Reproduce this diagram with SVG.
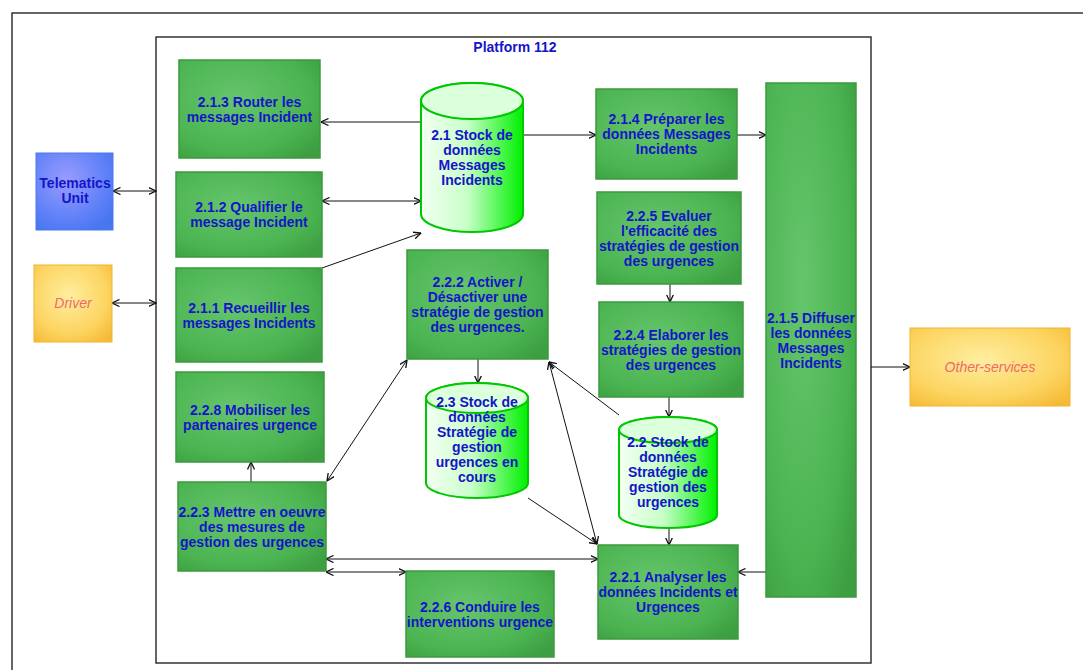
<svg xmlns="http://www.w3.org/2000/svg" width="1083" height="670" viewBox="0 0 1083 670">
<defs>
<style>
.box{stroke:#3b9a3e;stroke-width:1.5}
.lbl{font-family:"Liberation Sans",Arial,sans-serif;font-weight:bold;font-size:14px;fill:#1515c8;text-anchor:middle}
.ext{font-family:"Liberation Sans",Arial,sans-serif;font-style:italic;font-size:14px;fill:#ee6a6a;text-anchor:middle}
.cyl{stroke:#00c800;stroke-width:2}
.cap{fill:#dcffdc;stroke:#00c800;stroke-width:2}
.con{stroke:#111;stroke-width:1;fill:none}
.frame{fill:none;stroke:#333;stroke-width:1.5}
</style>
<radialGradient id="gGreen" cx="0.4" cy="0.4" r="0.75">
<stop offset="0" stop-color="#66c56c"/>
<stop offset="0.7" stop-color="#4bb451"/>
<stop offset="1" stop-color="#3d9f42"/>
</radialGradient>
<radialGradient id="gBlue" cx="0.4" cy="0.35" r="0.75">
<stop offset="0" stop-color="#9a9cff"/>
<stop offset="0.7" stop-color="#5d80f8"/>
<stop offset="1" stop-color="#4676f0"/>
</radialGradient>
<radialGradient id="gOrange" cx="0.45" cy="0.4" r="0.75">
<stop offset="0" stop-color="#ffeea0"/>
<stop offset="0.65" stop-color="#fcd460"/>
<stop offset="1" stop-color="#f5b935"/>
</radialGradient>
<linearGradient id="gCyl" x1="0" y1="0" x2="1" y2="0">
<stop offset="0" stop-color="#f4fff4"/>
<stop offset="0.45" stop-color="#c8ffc8"/>
<stop offset="1" stop-color="#00f000"/>
</linearGradient>
<marker id="arr" viewBox="0 0 8 8" refX="7.5" refY="4" markerWidth="8" markerHeight="8" markerUnits="userSpaceOnUse" orient="auto-start-reverse">
<path d="M0,0.5 L7.5,4 L0,7.5" fill="none" stroke="#111" stroke-width="1.3"/>
</marker>
</defs>
<rect width="1083" height="670" fill="#ffffff"/>
<rect class="frame" x="12" y="13" width="1090" height="680"/>
<rect class="frame" x="156" y="37" width="715" height="626"/>
<text class="lbl" x="515" y="52">Platform 112</text>

<g id="connectors">
<line class="con" x1="113" y1="191" x2="156" y2="191" marker-start="url(#arr)" marker-end="url(#arr)"/>
<line class="con" x1="112" y1="303" x2="156" y2="303" marker-start="url(#arr)" marker-end="url(#arr)"/>
<line class="con" x1="421" y1="122" x2="321" y2="122" marker-end="url(#arr)"/>
<line class="con" x1="322" y1="201" x2="421" y2="201" marker-start="url(#arr)" marker-end="url(#arr)"/>
<line class="con" x1="322" y1="268" x2="421" y2="233" marker-end="url(#arr)"/>
<line class="con" x1="523" y1="135" x2="596" y2="135" marker-end="url(#arr)"/>
<line class="con" x1="737" y1="135" x2="766" y2="135" marker-end="url(#arr)"/>
<line class="con" x1="670" y1="284" x2="670" y2="302" marker-end="url(#arr)"/>
<line class="con" x1="669" y1="397" x2="669" y2="417" marker-end="url(#arr)"/>
<line class="con" x1="669" y1="528" x2="669" y2="545" marker-end="url(#arr)"/>
<line class="con" x1="766" y1="572" x2="738" y2="572" marker-end="url(#arr)"/>
<line class="con" x1="871" y1="367" x2="910" y2="367" marker-end="url(#arr)"/>
<line class="con" x1="478" y1="359" x2="478" y2="383" marker-end="url(#arr)"/>
<line class="con" x1="619" y1="415" x2="549" y2="362" marker-end="url(#arr)"/>
<line class="con" x1="597" y1="544" x2="549" y2="362" marker-start="url(#arr)" marker-end="url(#arr)"/>
<line class="con" x1="528" y1="498" x2="597" y2="544" marker-end="url(#arr)"/>
<line class="con" x1="327" y1="481" x2="407" y2="360" marker-start="url(#arr)" marker-end="url(#arr)"/>
<line class="con" x1="251" y1="482" x2="251" y2="462" marker-end="url(#arr)"/>
<line class="con" x1="326" y1="559" x2="598" y2="559" marker-start="url(#arr)" marker-end="url(#arr)"/>
<line class="con" x1="326" y1="572" x2="406" y2="572" marker-start="url(#arr)" marker-end="url(#arr)"/>
</g>

<g id="telematics">
<rect x="36" y="153" width="77" height="77" fill="url(#gBlue)" stroke="#4a78ee"/>
<text class="lbl"><tspan x="75" y="188">Telematics</tspan><tspan x="75" y="203">Unit</tspan></text>
</g>
<g id="driver">
<rect x="34" y="265" width="78" height="77" fill="url(#gOrange)" stroke="#f3b430"/>
<text class="ext" x="73" y="308">Driver</text>
</g>
<g id="other-services">
<rect x="910" y="328" width="160" height="78" fill="url(#gOrange)" stroke="#f3b430"/>
<text class="ext" x="990" y="372">Other-services</text>
</g>

<g id="n213">
<rect class="box" x="179" y="60" width="141" height="98" fill="url(#gGreen)"/>
<text class="lbl"><tspan x="249.5" y="106.5">2.1.3 Router les</tspan><tspan x="249.5" y="121.5">messages Incident</tspan></text>
</g>
<g id="n212">
<rect class="box" x="176" y="172" width="146" height="85" fill="url(#gGreen)"/>
<text class="lbl"><tspan x="249" y="212">2.1.2 Qualifier le</tspan><tspan x="249" y="227">message Incident</tspan></text>
</g>
<g id="n211">
<rect class="box" x="176" y="268" width="146" height="94" fill="url(#gGreen)"/>
<text class="lbl"><tspan x="249" y="312.5">2.1.1 Recueillir les</tspan><tspan x="249" y="327.5">messages Incidents</tspan></text>
</g>
<g id="n228">
<rect class="box" x="176" y="372" width="148" height="90" fill="url(#gGreen)"/>
<text class="lbl"><tspan x="250" y="414.5">2.2.8 Mobiliser les</tspan><tspan x="250" y="429.5">partenaires urgence</tspan></text>
</g>
<g id="n223">
<rect class="box" x="178" y="482" width="148" height="89" fill="url(#gGreen)"/>
<text class="lbl"><tspan x="252" y="516.5">2.2.3 Mettre en oeuvre</tspan><tspan x="252" y="531.5">des mesures de</tspan><tspan x="252" y="546.5">gestion des urgences</tspan></text>
</g>
<g id="n226">
<rect class="box" x="406" y="571" width="148" height="86" fill="url(#gGreen)"/>
<text class="lbl"><tspan x="480" y="611.5">2.2.6 Conduire les</tspan><tspan x="480" y="626.5">interventions urgence</tspan></text>
</g>
<g id="n21">
<path class="cyl" d="M421,101 A51,18 0 0 1 523,101 L523,214 A51,18 0 0 1 421,214 Z" fill="url(#gCyl)"/>
<ellipse class="cap" cx="472" cy="101" rx="51" ry="18"/>
<text class="lbl"><tspan x="472" y="140">2.1 Stock de</tspan><tspan x="472" y="155">données</tspan><tspan x="472" y="170">Messages</tspan><tspan x="472" y="185">Incidents</tspan></text>
</g>
<g id="n222">
<rect class="box" x="407" y="250" width="141" height="109" fill="url(#gGreen)"/>
<text class="lbl"><tspan x="477.5" y="287">2.2.2 Activer /</tspan><tspan x="477.5" y="302">Désactiver une</tspan><tspan x="477.5" y="317">stratégie de gestion</tspan><tspan x="477.5" y="332">des urgences.</tspan></text>
</g>
<g id="n23">
<path class="cyl" d="M426,398 A51,15 0 0 1 528,398 L528,483 A51,15 0 0 1 426,483 Z" fill="url(#gCyl)"/>
<ellipse class="cap" cx="477" cy="398" rx="51" ry="15"/>
<text class="lbl"><tspan x="477" y="407">2.3 Stock de</tspan><tspan x="477" y="422">données</tspan><tspan x="477" y="437">Stratégie de</tspan><tspan x="477" y="452">gestion</tspan><tspan x="477" y="467">urgences en</tspan><tspan x="477" y="482">cours</tspan></text>
</g>
<g id="n214">
<rect class="box" x="596" y="89" width="141" height="90" fill="url(#gGreen)"/>
<text class="lbl"><tspan x="666.5" y="124">2.1.4 Préparer les</tspan><tspan x="666.5" y="139">données Messages</tspan><tspan x="666.5" y="154">Incidents</tspan></text>
</g>
<g id="n225">
<rect class="box" x="597" y="192" width="144" height="92" fill="url(#gGreen)"/>
<text class="lbl"><tspan x="669" y="220.5">2.2.5 Evaluer</tspan><tspan x="669" y="235.5">l'efficacité des</tspan><tspan x="669" y="250.5">stratégies de gestion</tspan><tspan x="669" y="265.5">des urgences</tspan></text>
</g>
<g id="n224">
<rect class="box" x="599" y="302" width="144" height="95" fill="url(#gGreen)"/>
<text class="lbl"><tspan x="671" y="339.5">2.2.4 Elaborer les</tspan><tspan x="671" y="354.5">stratégies de gestion</tspan><tspan x="671" y="369.5">des urgences</tspan></text>
</g>
<g id="n22">
<path class="cyl" d="M619,430 A49,13 0 0 1 717,430 L717,515 A49,13 0 0 1 619,515 Z" fill="url(#gCyl)"/>
<ellipse class="cap" cx="668" cy="430" rx="49" ry="13"/>
<text class="lbl"><tspan x="668" y="447">2.2 Stock de</tspan><tspan x="668" y="462">données</tspan><tspan x="668" y="477">Stratégie de</tspan><tspan x="668" y="492">gestion des</tspan><tspan x="668" y="507">urgences</tspan></text>
</g>
<g id="n221">
<rect class="box" x="598" y="545" width="140" height="94" fill="url(#gGreen)"/>
<text class="lbl"><tspan x="668" y="582">2.2.1 Analyser les</tspan><tspan x="668" y="597">données Incidents et</tspan><tspan x="668" y="612">Urgences</tspan></text>
</g>
<g id="n215">
<rect class="box" x="766" y="83" width="90" height="514" fill="url(#gGreen)"/>
<text class="lbl"><tspan x="811" y="323">2.1.5 Diffuser</tspan><tspan x="811" y="338">les données</tspan><tspan x="811" y="353">Messages</tspan><tspan x="811" y="368">Incidents</tspan></text>
</g>
</svg>
